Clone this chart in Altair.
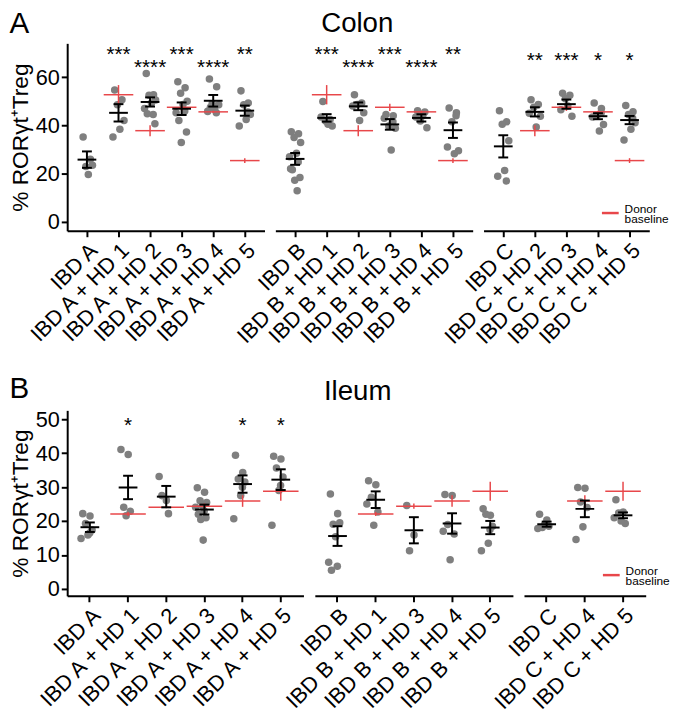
import altair as alt
import pandas as pd

RED = "#e8474a"
GRAY = "#7f7f7f"
FONT = "Liberation Sans"
YTITLE = "% RORγt⁺Treg"
LEGEND_TEXT = ["Donor", "baseline"]

colon_g1_cats = ["IBD A", "IBD A + HD 1", "IBD A + HD 2", "IBD A + HD 3", "IBD A + HD 4", "IBD A + HD 5"]
colon_g1_points = [
    [35.2, 26.0, 23.0, 23.5, 19.6],
    [54.7, 50.6, 48.5, 42.0, 38.4, 35.2],
    [61.5, 52.7, 52.5, 50.5, 49.3, 47.0, 44.5, 44.8, 40.7],
    [58.1, 55.6, 53.3, 50.0, 48.6, 45.2, 46.0, 42.0, 37.3, 32.9],
    [59.2, 56.0, 49.0, 48.5, 46.8, 45.8, 45.2, 47.5],
    [54.3, 49.3, 48.5, 44.5, 42.4, 39.7, 45.5],
]
colon_g1_mean = [25.8, 45.2, 49.7, 46.9, 50.2, 46.1]
colon_g1_sem = [3.4, 3.6, 1.9, 2.6, 2.4, 2.1]
colon_g1_stars = ["", "***", "****", "***", "****", "**"]
colon_g1_star_y = [0, 70.6, 65.3, 70.6, 65.3, 70.6]

colon_g2_cats = ["IBD B", "IBD B + HD 1", "IBD B + HD 2", "IBD B + HD 3", "IBD B + HD 4", "IBD B + HD 5"]
colon_g2_points = [
    [37.4, 36.5, 35.0, 32.9, 28.4, 27.0, 24.8, 21.6, 18.4, 17.3, 12.9, 22.0],
    [49.9, 42.4, 41.8, 39.7, 40.5, 43.5],
    [52.7, 49.3, 48.6, 45.2, 42.0, 48.0],
    [44.5, 44.0, 39.7, 38.8, 29.8, 43.0, 41.5],
    [46.1, 45.5, 41.8, 39.0, 44.0, 43.5],
    [47.2, 45.2, 41.5, 29.5, 28.2, 31.0, 44.0],
]
colon_g2_mean = [26.1, 43.1, 47.9, 40.4, 43.1, 38.0]
colon_g2_sem = [2.45, 1.55, 1.6, 2.2, 1.5, 3.2]
colon_g2_stars = ["", "***", "****", "***", "****", "**"]
colon_g2_star_y = [0, 70.6, 65.3, 70.6, 65.3, 70.6]

colon_g3_cats = ["IBD C", "IBD C + HD 2", "IBD C + HD 3", "IBD C + HD 4", "IBD C + HD 5"]
colon_g3_points = [
    [46.1, 41.5, 40.5, 33.6, 21.3, 18.9, 16.9],
    [50.6, 48.6, 47.5, 43.8, 39.3, 45.0],
    [53.3, 52.5, 51.0, 43.8, 48.0, 46.5],
    [49.3, 47.0, 44.0, 40.4, 37.7, 43.5, 45.0],
    [48.2, 45.6, 44.5, 41.1, 38.4, 33.9, 43.0],
]
colon_g3_mean = [31.3, 45.6, 48.8, 43.8, 42.2]
colon_g3_sem = [4.6, 1.9, 1.9, 1.25, 1.7]
colon_g3_stars = ["", "**", "***", "*", "*"]
colon_g3_star_y = [0, 68.3, 68.3, 68.3, 68.3]

colon_donor_mean = [52.7, 37.8, 47.5, 45.6, 25.4]   # HD 1..5
colon_donor_sem = [4.0, 2.3, 1.5, 0.5, 1.0]

ileum_g1_cats = ["IBD A", "IBD A + HD 1", "IBD A + HD 2", "IBD A + HD 3", "IBD A + HD 4", "IBD A + HD 5"]
ileum_g1_points = [
    [22.2, 21.5, 19.3, 17.4, 15.9, 14.9, 16.5],
    [41.1, 39.6, 24.1, 22.9, 21.6],
    [33.1, 26.1, 27.5, 22.2],
    [29.8, 28.5, 26.0, 25.5, 24.5, 24.1, 23.0, 22.0, 21.0, 20.5, 14.4],
    [39.4, 34.3, 32.4, 31.5, 27.5, 20.7, 30.0],
    [39.1, 38.3, 35.6, 33.0, 29.0, 18.8, 30.5],
]
ileum_g1_mean = [18.2, 29.9, 27.2, 23.4, 30.9, 32.2]
ileum_g1_sem = [1.4, 3.45, 3.15, 1.45, 2.55, 3.05]
ileum_g1_stars = ["", "*", "", "", "*", "*"]
ileum_g1_star_y = [0, 49.0, 0, 0, 49.0, 49.0]

ileum_g2_cats = ["IBD B", "IBD B + HD 1", "IBD B + HD 3", "IBD B + HD 4", "IBD B + HD 5"]
ileum_g2_points = [
    [28.0, 22.2, 19.1, 19.5, 15.4, 7.9, 6.7, 5.5],
    [31.9, 30.7, 27.0, 22.7, 18.8, 25.0],
    [24.6, 15.9, 11.3],
    [27.8, 27.5, 19.0, 16.2, 8.6, 17.0],
    [23.6, 21.7, 22.0, 18.5, 13.5, 11.3, 17.5],
]
ileum_g2_mean = [15.6, 26.3, 17.3, 19.3, 18.1]
ileum_g2_sem = [2.9, 2.45, 3.85, 3.0, 1.95]
ileum_g2_stars = ["", "", "", "", ""]
ileum_g2_star_y = [0, 0, 0, 0, 0]

ileum_g3_cats = ["IBD C", "IBD C + HD 4", "IBD C + HD 5"]
ileum_g3_points = [
    [22.0, 20.3, 18.1, 18.5, 19.0, 17.8],
    [29.9, 29.7, 25.6, 24.0, 18.3, 14.6],
    [26.3, 22.7, 22.4, 19.3, 20.0, 21.0],
]
ileum_g3_mean = [19.1, 23.6, 21.7]
ileum_g3_sem = [0.75, 2.45, 0.85]
ileum_g3_stars = ["", "", ""]
ileum_g3_star_y = [0, 0, 0]

ileum_donor_mean = [22.1, 24.1, 24.4, 25.9, 28.8]
ileum_donor_sem = [0.6, 0.3, 0.8, 1.7, 2.8]

colon_ticks = [0, 20, 40, 60]
ileum_ticks = [0, 10, 20, 30, 40, 50]

JIT = [-0.55, 0.5, -0.15, 0.8, 0.2, -0.8, 0.45, -0.4, 0.7, -0.05, 0.3, -0.65]


def sub(cats, pts, means, sems, stars, star_y, dmean, dsem, step, pad, ydom,
        yvals, height, first, title=None, legend=None, red_w=30, jw=7):
    n = len(cats)
    width = step * (n + 2 * pad)
    rows = []
    for c, vals in zip(cats, pts):
        for i, v in enumerate(vals):
            rows.append({"cat": c, "v": v, "jit": JIT[i % len(JIT)]})
    pdf = pd.DataFrame(rows)
    sdf = pd.DataFrame({"cat": cats, "mean": means,
                        "lo": [m - s for m, s in zip(means, sems)],
                        "hi": [m + s for m, s in zip(means, sems)]})
    drows = []
    for c in cats:
        if "HD" in c:
            k = int(c.split()[-1]) - 1
            drows.append({"cat": c, "dm": dmean[k], "dlo": dmean[k] - dsem[k],
                          "dhi": dmean[k] + dsem[k]})
    ddf = pd.DataFrame(drows)
    strows = [{"cat": c, "star": s, "sy": y} for c, s, y in zip(cats, stars, star_y) if s]

    xs = alt.Scale(type="band", domain=cats, paddingInner=0, paddingOuter=pad)
    X = alt.X("cat:N", scale=xs, sort=cats,
              axis=alt.Axis(title=None, labelAngle=-45, labelFontSize=22, labelPadding=3))
    ys = alt.Scale(domain=ydom, nice=False, zero=False)
    if first:
        yax = alt.Axis(values=yvals, title=YTITLE, titleFontSize=23, labelFontSize=22,
                       labelPadding=2, titlePadding=3)
    else:
        yax = None

    def Y(f):
        return alt.Y(f, type="quantitative", scale=ys, axis=yax)

    base_p = alt.Chart(pdf)
    pts_l = base_p.mark_circle(size=58, color=GRAY, opacity=1).encode(
        x=X, y=Y("v"),
        xOffset=alt.XOffset("jit:Q", scale=alt.Scale(domain=[-1, 1],
                                                     range=[step / 2 - jw, step / 2 + jw])))
    base_d = alt.Chart(ddf)
    red_rule = base_d.mark_rule(color=RED, strokeWidth=1.5).encode(
        x=X, y=Y("dlo"), y2=alt.Y2("dhi"))
    red_tick = base_d.mark_tick(color=RED, thickness=1.5, size=red_w, opacity=1).encode(
        x=X, y=Y("dm"))
    base_s = alt.Chart(sdf)
    err = base_s.mark_rule(color="black", strokeWidth=2).encode(x=X, y=Y("lo"), y2=alt.Y2("hi"))
    cap_lo = base_s.mark_tick(color="black", thickness=2, size=10, opacity=1).encode(x=X, y=Y("lo"))
    cap_hi = base_s.mark_tick(color="black", thickness=2, size=10, opacity=1).encode(x=X, y=Y("hi"))
    mean_t = base_s.mark_tick(color="black", thickness=2, size=19, opacity=1).encode(x=X, y=Y("mean"))
    layers = [pts_l, red_rule, red_tick, err, cap_lo, cap_hi, mean_t]
    if strows:
        st = alt.Chart(pd.DataFrame(strows)).mark_text(fontSize=21, baseline="middle", dy=4,
                                                       color="black").encode(
            x=X, y=Y("sy"), text="star:N")
        layers.append(st)
    if legend is not None:
        lx, ly = legend
        one = alt.Chart(pd.DataFrame({"k": [0]}))
        layers.append(one.mark_rule(color=RED, strokeWidth=2.5).encode(
            x=alt.value(lx), x2=alt.value(lx + 17), y=alt.value(ly)))
        layers.append(one.mark_text(text=LEGEND_TEXT, fontSize=12, lineHeight=10,
                                    align="left", baseline="top", color="black").encode(
            x=alt.value(lx + 23), y=alt.value(ly - 9)))
    ch = alt.layer(*layers).properties(width=width, height=height)
    if title is not None:
        ch = ch.properties(title=title)
    return ch


A_STEP, A_PAD, A_DOM, A_H = 32, 0.125, [-3.7, 74], 190
B_STEP, B_PAD, B_DOM, B_H = 38.7, 0.094, [-2.0, 52.6], 188

a1 = sub(colon_g1_cats, colon_g1_points, colon_g1_mean, colon_g1_sem, colon_g1_stars,
         colon_g1_star_y, colon_donor_mean, colon_donor_sem, A_STEP, A_PAD, A_DOM,
         colon_ticks, A_H, True,
         title=alt.TitleParams("A", anchor="start", frame="bounds", fontSize=30, offset=4))
a2 = sub(colon_g2_cats, colon_g2_points, colon_g2_mean, colon_g2_sem, colon_g2_stars,
         colon_g2_star_y, colon_donor_mean, colon_donor_sem, A_STEP, A_PAD, A_DOM,
         colon_ticks, A_H, False,
         title=alt.TitleParams("Colon", anchor="middle", fontSize=28, offset=5, dx=-17))
a3 = sub(colon_g3_cats, colon_g3_points, colon_g3_mean, colon_g3_sem, colon_g3_stars,
         colon_g3_star_y, colon_donor_mean, colon_donor_sem, A_STEP, A_PAD, A_DOM,
         colon_ticks, A_H, False, legend=(120, 172))

b1 = sub(ileum_g1_cats, ileum_g1_points, ileum_g1_mean, ileum_g1_sem, ileum_g1_stars,
         ileum_g1_star_y, ileum_donor_mean, ileum_donor_sem, B_STEP, B_PAD, B_DOM,
         ileum_ticks, B_H, True,
         title=alt.TitleParams("B", anchor="start", frame="bounds", fontSize=30, offset=4),
         red_w=36, jw=8)
b2 = sub(ileum_g2_cats, ileum_g2_points, ileum_g2_mean, ileum_g2_sem, ileum_g2_stars,
         ileum_g2_star_y, ileum_donor_mean, ileum_donor_sem, B_STEP, B_PAD, B_DOM,
         ileum_ticks, B_H, False,
         title=alt.TitleParams("Ileum", anchor="middle", fontSize=28, offset=5, dx=-57),
         red_w=36, jw=8)
b3 = sub(ileum_g3_cats, ileum_g3_points, ileum_g3_mean, ileum_g3_sem, ileum_g3_stars,
         ileum_g3_star_y, ileum_donor_mean, ileum_donor_sem, B_STEP, B_PAD, B_DOM,
         ileum_ticks, B_H, False, legend=(80, 167), red_w=36, jw=8)

panel_a = alt.hconcat(a1, a2, a3, spacing=11, bounds="flush")
panel_b = alt.hconcat(b1, b2, b3, spacing=11, bounds="flush")

chart = alt.vconcat(panel_a, panel_b, spacing=26).properties(
    padding={"left": 1, "top": -3, "right": 0, "bottom": 0}
).configure(font=FONT).configure_view(stroke=None).configure_axis(
    domainColor="black", domainWidth=2, tickColor="black", tickWidth=2, tickSize=6,
    labelColor="black", titleColor="black", labelFont=FONT, titleFont=FONT,
    titleFontWeight="normal", grid=False
).configure_title(font=FONT, fontWeight="normal", color="black")

chart.save("out.html", embed_options={"renderer": "svg", "actions": False})
